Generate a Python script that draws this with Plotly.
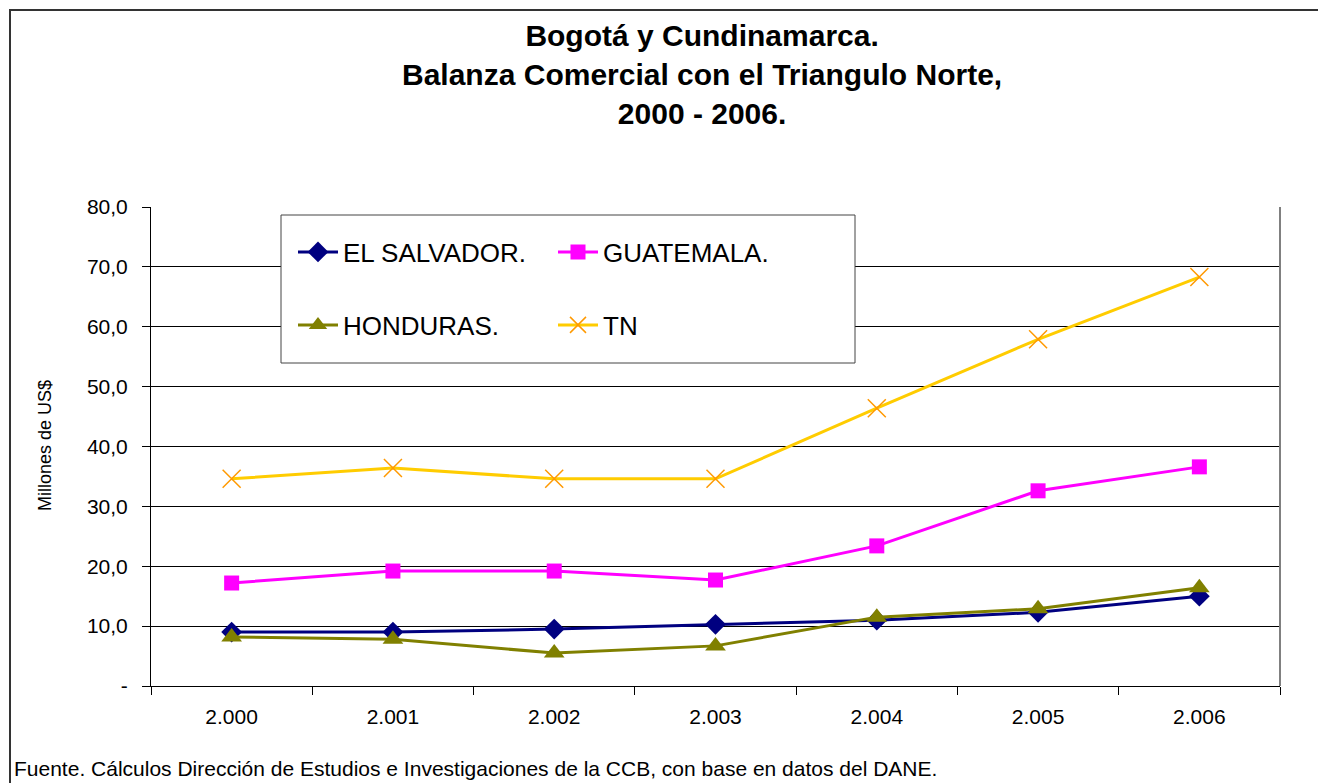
import plotly.graph_objects as go

#-------------------------------------------------
# data
#-------------------------------------------------
years = ["2.000", "2.001", "2.002", "2.003", "2.004", "2.005", "2.006"]

el_salvador = [9.0, 9.0, 9.5, 10.3, 11.0, 12.3, 15.0]
guatemala   = [17.2, 19.2, 19.2, 17.7, 23.4, 32.6, 36.6]
honduras    = [8.2, 7.8, 5.5, 6.7, 11.5, 12.9, 16.4]
tn          = [34.6, 36.4, 34.6, 34.6, 46.4, 57.9, 68.3]

y_ticks  = [0, 10, 20, 30, 40, 50, 60, 70, 80]
y_labels = ["-", "10,0", "20,0", "30,0", "40,0", "50,0", "60,0", "70,0", "80,0"]

#-------------------------------------------------
# plot area in pixels
L, R, T, B = 151, 1280, 207, 686
W, H = 1318, 783


def px(x):
    return (x - L) / (R - L)


def py(y):
    return (B - y) / (B - T)


FONT = "Arial, Liberation Sans, sans-serif"

fig = go.Figure()

fig.add_trace(go.Scatter(
    x=years, y=el_salvador, name="EL SALVADOR.", mode="lines+markers",
    line=dict(color="#000080", width=3),
    marker=dict(symbol="diamond", size=16, color="#000080"),
    legend="legend",
))
fig.add_trace(go.Scatter(
    x=years, y=guatemala, name="GUATEMALA.", mode="lines+markers",
    line=dict(color="#FF00FF", width=3),
    marker=dict(symbol="square", size=15, color="#FF00FF"),
    legend="legend",
))
fig.add_trace(go.Scatter(
    x=years, y=honduras, name="HONDURAS.", mode="lines+markers",
    line=dict(color="#808000", width=3),
    marker=dict(symbol="triangle-up", size=18, color="#808000"),
    legend="legend2",
))
fig.add_trace(go.Scatter(
    x=years, y=tn, name="TN", mode="lines+markers",
    line=dict(color="#FFCC00", width=3),
    marker=dict(symbol="x-thin", size=18, line=dict(color="#FF9900", width=1.5)),
    legend="legend2",
))

leg = dict(
    orientation="h", xanchor="left", yanchor="middle",
    font=dict(family=FONT, size=26, color="black"),
    bgcolor="rgba(0,0,0,0)", borderwidth=0,
    entrywidth=205, entrywidthmode="pixels", itemwidth=40,
)

fig.update_layout(
    width=W, height=H,
    margin=dict(l=L, r=W - R, t=T, b=H - B),
    paper_bgcolor="white", plot_bgcolor="white",
    font=dict(family=FONT, color="black"),
    showlegend=True,
    legend=dict(leg, x=px(293), y=py(252)),
    legend2=dict(leg, x=px(293), y=py(325)),
    xaxis=dict(
        type="category", tickson="boundaries", range=[-0.5, 6.5],
        ticks="outside", ticklen=8, tickcolor="black",
        showline=True, linecolor="black", linewidth=1,
        showgrid=False, ticklabelstandoff=12,
        tickfont=dict(family=FONT, size=21, color="black"),
    ),
    yaxis=dict(
        range=[0, 80], tickvals=y_ticks, ticktext=y_labels,
        ticks="outside", ticklen=8, tickcolor="black",
        showline=True, linecolor="black", linewidth=1,
        showgrid=True, gridcolor="black", gridwidth=1,
        zeroline=False, ticklabelstandoff=10,
        tickfont=dict(family=FONT, size=21, color="black"),
    ),
    shapes=[
        # outer chart border
        dict(type="rect", xref="paper", yref="paper",
             x0=px(10), x1=px(1340), y0=py(10), y1=py(800),
             line=dict(color="#333333", width=2), fillcolor="rgba(0,0,0,0)"),
        # right edge of plot area
        dict(type="line", xref="paper", yref="paper",
             x0=1, x1=1, y0=0, y1=1, line=dict(color="#808080", width=2)),
        # legend box
        dict(type="rect", xref="paper", yref="paper",
             x0=px(281), x1=px(855), y0=py(215), y1=py(363),
             line=dict(color="#444444", width=1), fillcolor="white", layer="above"),
    ],
    annotations=[
        dict(text="<b>Bogotá y Cundinamarca.<br>Balanza Comercial con el Triangulo Norte,<br>2000 - 2006.</b>",
             xref="paper", yref="paper", x=px(702), y=py(74),
             xanchor="center", yanchor="middle", showarrow=False,
             font=dict(family=FONT, size=30, color="black"), align="center"),
        dict(text="Millones de US$", textangle=-90,
             xref="paper", yref="paper", x=px(45), y=py(446),
             xanchor="center", yanchor="middle", showarrow=False,
             font=dict(family=FONT, size=18, color="black")),
        dict(text="Fuente. Cálculos Dirección de Estudios e Investigaciones de la CCB, con base en datos del DANE.",
             xref="paper", yref="paper", x=px(12), y=py(768),
             xanchor="left", yanchor="middle", showarrow=False,
             font=dict(family=FONT, size=21, color="black")),
    ],
)

fig.write_html("out.html", config={"displayModeBar": False},
               post_script="document.body.style.margin='0';")
